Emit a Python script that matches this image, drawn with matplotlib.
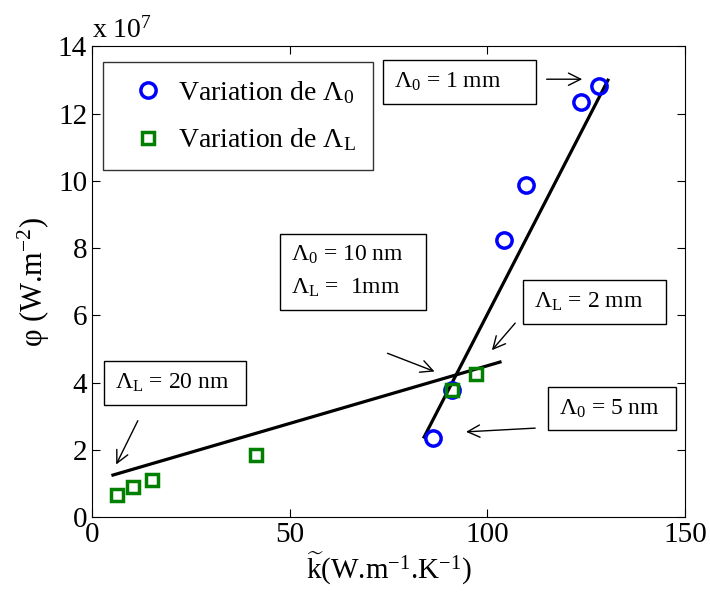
import numpy as np
import matplotlib
matplotlib.use('Agg')
import matplotlib.pyplot as plt

plt.rcParams['font.family'] = ['Liberation Serif', 'DejaVu Serif']
plt.rcParams['mathtext.fontset'] = 'custom'
plt.rcParams['mathtext.rm'] = 'Liberation Serif'
plt.rcParams['mathtext.it'] = 'Liberation Serif:italic'

# Variation de Lambda_0 (phi en unites de 1e7 W/m2)
k_lam0 = [86.3, 91.1, 104.2, 109.8, 123.7, 128.3]
phi_lam0 = [2.35, 3.78, 8.23, 9.87, 12.34, 12.81]

# Variation de Lambda_L
k_lamL = [6.3, 10.4, 15.2, 41.5, 91.1, 97.1]
phi_lamL = [0.65, 0.89, 1.10, 1.84, 3.78, 4.25]

# droites de tendance
fit_L_x = [5.3, 103.2]
fit_L_y = [1.25, 4.61]
fit_0_x = [84.0, 130.5]
fit_0_y = [2.38, 12.99]

fig = plt.figure(figsize=(7.1, 5.93), dpi=100)
ax = fig.add_axes([0.1296, 0.128, 0.8352, 0.794])

ax.plot(fit_L_x, fit_L_y, color='k', lw=2.3, zorder=2)
ax.plot(fit_0_x, fit_0_y, color='k', lw=2.3, zorder=2)
ax.plot(k_lam0, phi_lam0, 'o', mfc='none', mec='#0000ff', mew=2.5, ms=11,
        label=r'Variation de Λ$_\mathrm{0}$', zorder=3)
ax.plot(k_lamL, phi_lamL, 's', mfc='none', mec='#007f00', mew=2.5, ms=9,
        label=r'Variation de Λ$_\mathrm{L}$', zorder=3)

ax.set_xlim(0, 150)
ax.set_ylim(0, 14)
ax.set_xticks([0, 50, 100, 150])
ax.set_yticks(np.arange(0, 15, 2))
ax.tick_params(direction='in', top=True, right=True, labelsize=21, length=6)

ax.set_xlabel(r'$\widetilde{\mathrm{k}}$(W.m$^{-1}$.K$^{-1}$)', fontsize=21, labelpad=2)
ax.set_ylabel(r'φ (W.m$^{-2}$)', fontsize=22, labelpad=4)
ax.text(0.0, 1.005, r'x 10$^{7}$', transform=ax.transAxes, fontsize=20,
        ha='left', va='bottom')

leg = ax.legend(loc='upper left', bbox_to_anchor=(0.019, 0.966), fontsize=20,
                frameon=True, fancybox=False, edgecolor='k', handletextpad=0.1,
                borderpad=0.6, labelspacing=0.75, borderaxespad=0)
leg.get_frame().set_linewidth(1.0)

box = dict(boxstyle='square,pad=0.45', fc='white', ec='k', lw=1.0)
arr = dict(arrowstyle='->', color='k', lw=1.0, mutation_scale=22)
fs = 17

# boites de texte + fleches
ax.annotate(r'Λ$_\mathrm{0}$ = 1 mm     ', xy=(76.3, 12.93), xytext=(76.3, 12.93),
            fontsize=fs, bbox=box, va='center')
ax.annotate('', xy=(124.7, 13.02), xytext=(114.3, 13.02), arrowprops=arr)
ax.annotate('Λ$_\\mathrm{0}$ = 10 nm   \nΛ$_\\mathrm{L}$ =  1mm   ', xy=(88.0, 4.3),
            xytext=(50.3, 7.30), fontsize=fs, bbox=box, va='center',
            linespacing=1.6, annotation_clip=False)
ax.annotate('', xy=(87.3, 4.3), xytext=(74.1, 4.9), arrowprops=arr)
ax.annotate(r'Λ$_\mathrm{L}$ = 2 mm   ', xy=(101.0, 4.9), xytext=(111.7, 6.39),
            fontsize=fs, bbox=box, va='center')
ax.annotate('', xy=(100.7, 4.9), xytext=(107.5, 5.83), arrowprops=arr)
ax.annotate(r'Λ$_\mathrm{L}$ = 20 nm  ', xy=(6.0, 1.5), xytext=(5.7, 3.98),
            fontsize=fs, bbox=box, va='center')
ax.annotate('', xy=(5.8, 1.49), xytext=(11.9, 2.94), arrowprops=arr)
ax.annotate(r'Λ$_\mathrm{0}$ = 5 nm  ', xy=(93.8, 2.5), xytext=(118.0, 3.23),
            fontsize=fs, bbox=box, va='center')
ax.annotate('', xy=(93.9, 2.53), xytext=(112.8, 2.65), arrowprops=arr)

fig.savefig('out.png', dpi=100)
